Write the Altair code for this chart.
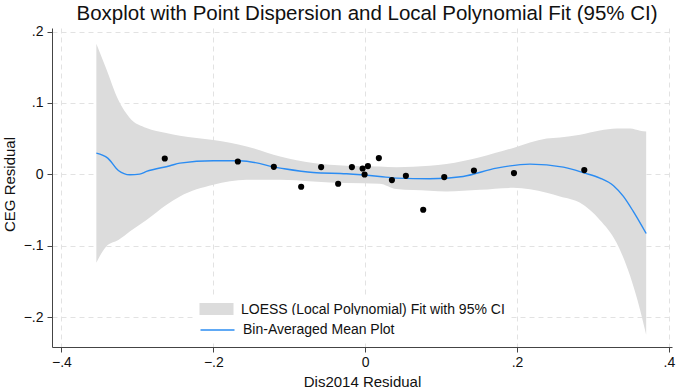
import altair as alt
import pandas as pd

# ---- data ----
pt_x = [-0.2639, -0.1677, -0.1203, -0.0843, -0.058, -0.0356, -0.0175, -0.0034, 0.0036,
        -0.0008, 0.018, 0.0352, 0.0536, 0.0764, 0.1041, 0.1432, 0.1959, 0.2885]
pt_y = [0.0221, 0.0179, 0.0105, -0.0175, 0.0101, -0.0133, 0.0101, 0.0081, 0.0115,
        -0.0003, 0.0227, -0.0081, -0.0021, -0.0497, -0.0039, 0.0053, 0.0017, 0.0059]

band_x = [-0.354, -0.341, -0.325, -0.31, -0.288, -0.262, -0.244, -0.2, -0.156, -0.112,
          -0.0685, -0.0245, 0.019, 0.041, 0.085, 0.107, 0.151, 0.195, 0.239, 0.2565,
          0.283, 0.309, 0.331, 0.349, 0.362, 0.37]
band_hi = [0.183, 0.148, 0.104, 0.079, 0.065, 0.058, 0.054, 0.048, 0.039, 0.025,
           0.0157, 0.012, 0.011, 0.010, 0.012, 0.0145, 0.024, 0.037, 0.050, 0.0515,
           0.0553, 0.0613, 0.064, 0.064, 0.061, 0.060]
band_lo = [-0.124, -0.101, -0.092, -0.080, -0.064, -0.043, -0.031, -0.0147, -0.0077, -0.0077,
           -0.010, -0.0123, -0.0133, -0.0207, -0.023, -0.024, -0.0217, -0.019, -0.026, -0.031,
           -0.040, -0.064, -0.096, -0.143, -0.190, -0.225]

line_x = [-0.354, -0.339, -0.325, -0.31, -0.297, -0.288, -0.257, -0.244, -0.2, -0.165,
          -0.112, -0.0685, -0.0245, 0.019, 0.041, 0.085, 0.129, 0.173, 0.217, 0.261,
          0.289, 0.309, 0.327, 0.34, 0.353, 0.37]
line_y = [0.0297, 0.0227, 0.0053, -0.0007, 0.0003, 0.004, 0.012, 0.0157, 0.019, 0.019,
          0.0087, 0.0025, 0.0007, -0.003, -0.0053, -0.0063, -0.003, 0.0087, 0.0143, 0.010,
          0.0017, -0.0053, -0.016, -0.031, -0.052, -0.083]

x_ticks = [-0.4, -0.2, 0, 0.2, 0.4]
y_ticks = [-0.2, -0.1, 0, 0.1, 0.2]

LOESS = "LOESS (Local Polynomial) Fit with 95% CI"
BIN = "Bin-Averaged Mean Plot"
TITLE = "Boxplot with Point Dispersion and Local Polynomial Fit (95% CI)"
FONT = "Liberation Sans"

band_df = pd.DataFrame({"x": band_x, "lo": band_lo, "hi": band_hi, "series": LOESS})
line_df = pd.DataFrame({"x": line_x, "y": line_y, "series": BIN})
pts_df = pd.DataFrame({"x": pt_x, "y": pt_y})

label_expr = "datum.value == 0 ? '0' : replace(format(datum.value, '.1f'), '0.', '.')"

xscale = alt.Scale(domain=[-0.4124, 0.404], nice=False, zero=False)
yscale = alt.Scale(domain=[-0.242, 0.205], nice=False, zero=False)

grid_style = dict(grid=True, gridDash=[5, 4], gridColor="#e2e2e2", gridWidth=1)

xaxis = alt.Axis(values=x_ticks, labelExpr=label_expr, title="Dis2014 Residual",
                 tickSize=5, labelPadding=3, titleY=34, titleBaseline="middle",
                 **grid_style)
yaxis = alt.Axis(values=y_ticks, labelExpr=label_expr, title="CEG Residual",
                 tickSize=5, labelPadding=4, titleX=-43, titleY=156,
                 titleBaseline="middle", titleAlign="center", **grid_style)

legend_common = dict(orient="none", title=None, padding=5.5, fillColor="white",
                     labelFont=FONT, labelFontSize=14, labelColor="#111111",
                     labelOffset=24.5, labelLimit=0, symbolSize=289, legendX=142)

band = alt.Chart(band_df).mark_area(interpolate="monotone", opacity=1).encode(
    x=alt.X("x:Q", scale=xscale, axis=xaxis),
    y=alt.Y("lo:Q", scale=yscale, axis=yaxis),
    y2="hi:Q",
    fill=alt.Fill("series:N", scale=alt.Scale(domain=[LOESS], range=["#dcdcdc"]),
                  legend=alt.Legend(legendY=268, zindex=1,
                                    symbolType="M-1,-0.82L3,-0.82L3,0.82L-1,0.82Z",
                                    symbolOpacity=1, symbolStrokeWidth=0,
                                    **legend_common)),
)

line = alt.Chart(line_df).mark_line(interpolate="monotone", strokeWidth=1.4).encode(
    x=alt.X("x:Q", scale=xscale),
    y=alt.Y("y:Q", scale=yscale),
    stroke=alt.Stroke("series:N", scale=alt.Scale(domain=[BIN], range=["#2b8cf2"]),
                      legend=alt.Legend(legendY=287, zindex=2, symbolType="M-1,0L3,0",
                                        symbolStrokeWidth=1.5, **legend_common)),
)

pts = alt.Chart(pts_df).mark_circle(size=38, color="black", opacity=1).encode(
    x=alt.X("x:Q", scale=xscale),
    y=alt.Y("y:Q", scale=yscale),
)

chart = alt.layer(band, line, pts).properties(
    width=620,
    height=319,
    padding={"left": 52, "top": 28, "right": 8, "bottom": 43},
    autosize=alt.AutoSizeParams(type="none"),
    background="white",
    title=alt.TitleParams(TITLE, font=FONT, fontSize=20.5, fontWeight="normal",
                          color="#111111", anchor="middle", dx=5, dy=22, offset=6,
                          baseline="alphabetic"),
).configure_view(stroke=None).configure_axis(
    labelFont=FONT, titleFont=FONT, labelFontSize=14, titleFontSize=15,
    labelColor="#111111", titleColor="#111111", titleFontWeight="normal",
    domainColor="#444444", tickColor="#444444",
)

chart.save("out.html", embed_options={"renderer": "svg", "actions": False})
